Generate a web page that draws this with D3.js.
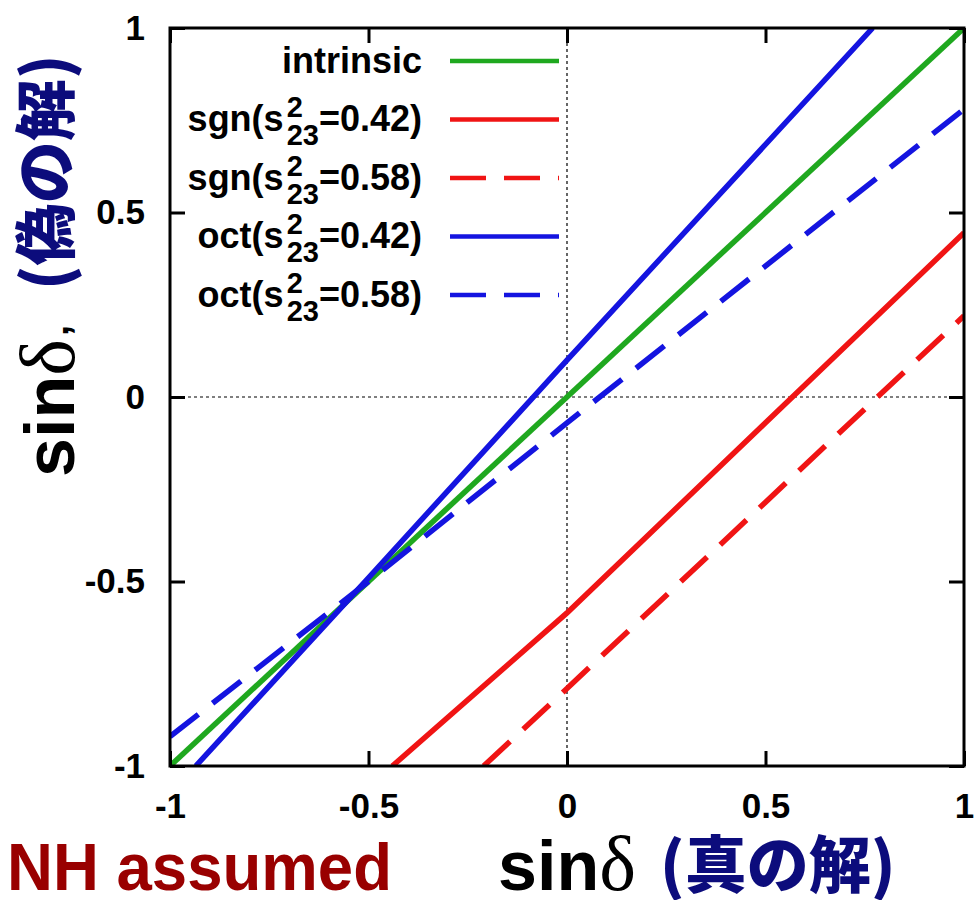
<!DOCTYPE html>
<html>
<head>
<meta charset="utf-8">
<script src="https://cdn.jsdelivr.net/npm/d3@7"></script>
<style>
  body { margin: 0; background: #fff; }
  svg { display: block; }
</style>
</head>
<body>
<script>
// Axis ticks
const xTickValues = [-1, -0.5, 0, 0.5, 1];
const yTickValues = [-1, -0.5, 0, 0.5, 1];

// sinδ (true solution) vs sinδ' (fake solution) for each degeneracy
const intrinsicX = [-1, 0, 1];
const intrinsicY = [-1, 0, 1];
const sgn042X = [-0.44, 0, 0.5, 1];
const sgn042Y = [-1, -0.585, -0.07, 0.445];
const sgn058X = [-0.21, 0, 0.5, 1];
const sgn058Y = [-1, -0.79, -0.285, 0.22];
const oct042X = [-0.935, -0.5, 0, 0.77];
const oct042Y = [-1, -0.49, 0.1, 1];
const oct058X = [-1, -0.5, 0, 1];
const oct058Y = [-0.92, -0.5, -0.07, 0.78];

// Legend entries
const seriesNames = ["intrinsic", "sgn", "sgn", "oct", "oct"];
const seriesS23 = [null, "0.42", "0.58", "0.42", "0.58"];
const seriesColors = ["#1fa81f", "#f01414", "#f01414", "#1414e0", "#1414e0"];
const seriesDashed = [false, false, true, false, true];

const seriesX = [intrinsicX, sgn042X, sgn058X, oct042X, oct058X];
const seriesY = [intrinsicY, sgn042Y, sgn058Y, oct042Y, oct058Y];

const W = 975, H = 900;
const plot = { left: 170, right: 964, top: 28, bottom: 766 };
const SANS = "'Liberation Sans', Arial, Helvetica, sans-serif";
const SERIF = "'Liberation Serif', 'Times New Roman', serif";
const CJK = "'Noto Sans CJK JP', 'Noto Sans CJK SC', sans-serif";
const NAVY = "#0c0c7c";

const x = d3.scaleLinear().domain([-1, 1]).range([plot.left, plot.right]);
const y = d3.scaleLinear().domain([-1, 1]).range([plot.bottom, plot.top]);

const svg = d3.select("body").append("svg")
  .attr("width", W).attr("height", H)
  .attr("viewBox", `0 0 ${W} ${H}`);

svg.append("defs").append("clipPath").attr("id", "plot-clip")
  .append("rect")
  .attr("x", plot.left).attr("y", plot.top)
  .attr("width", plot.right - plot.left).attr("height", plot.bottom - plot.top);

// Dotted zero lines
svg.append("line")
  .attr("x1", x(-1)).attr("x2", x(1)).attr("y1", y(0)).attr("y2", y(0))
  .attr("stroke", "#000").attr("stroke-width", 1.2).attr("stroke-dasharray", "3,3");
svg.append("line")
  .attr("x1", x(0)).attr("x2", x(0)).attr("y1", y(-1)).attr("y2", y(1))
  .attr("stroke", "#000").attr("stroke-width", 1.2).attr("stroke-dasharray", "3,3");

// Curves
const line = d3.line().x(d => x(d[0])).y(d => y(d[1]));
const curves = svg.append("g").attr("clip-path", "url(#plot-clip)");
seriesX.forEach((xs, i) => {
  const pts = xs.map((v, j) => [v, seriesY[i][j]]);
  curves.append("path")
    .attr("d", line(pts))
    .attr("fill", "none")
    .attr("stroke", seriesColors[i])
    .attr("stroke-width", 5.5)
    .attr("stroke-dasharray", seriesDashed[i] ? "36,18" : null);
});

// Legend
const legendTop = 61, legendStep = 58.5;
const legendTextX = 422, sampleX0 = 450, sampleX1 = 559;
const scriptSize = 29;
const legend = svg.append("g");
seriesNames.forEach((name, i) => {
  const ry = legendTop + i * legendStep;
  legend.append("line")
    .attr("x1", sampleX0).attr("x2", sampleX1).attr("y1", ry).attr("y2", ry)
    .attr("stroke", seriesColors[i]).attr("stroke-width", 4.5)
    .attr("stroke-dasharray", seriesDashed[i] ? "36,18" : null);
  const t = legend.append("text")
    .attr("x", legendTextX).attr("y", ry + 11.5)
    .attr("text-anchor", "end")
    .attr("font-family", SANS).attr("font-weight", "bold")
    .attr("font-size", 36).attr("fill", "#000");
  if (seriesS23[i] === null) {
    t.text(name);
  } else {
    t.append("tspan").text(name + "(s");
    t.append("tspan").attr("font-size", scriptSize).attr("dx", 3).attr("dy", -14).text("2");
    t.append("tspan").attr("font-size", scriptSize).attr("dx", -0.556 * scriptSize).attr("dy", 28).text("23");
    t.append("tspan").attr("dy", -14).text("=" + seriesS23[i] + ")");
  }
});

// Axes with inward ticks on all four sides
const fmt = d => String(d);
function styleAxis(g, withText) {
  g.select(".domain").remove();
  g.selectAll(".tick line").attr("stroke", "#000").attr("stroke-width", 3);
  if (withText) {
    g.selectAll(".tick text")
      .attr("fill", "#000")
      .attr("font-family", SANS)
      .attr("font-weight", "bold")
      .attr("font-size", 35);
  }
}
svg.append("g").attr("transform", `translate(0,${plot.bottom})`)
  .call(d3.axisBottom(x).tickValues(xTickValues).tickFormat(fmt)
    .tickSizeInner(-15).tickSizeOuter(0).tickPadding(27))
  .call(g => styleAxis(g, true));
svg.append("g").attr("transform", `translate(${plot.left},0)`)
  .call(d3.axisLeft(y).tickValues(yTickValues).tickFormat(fmt)
    .tickSizeInner(-15).tickSizeOuter(0).tickPadding(25))
  .call(g => styleAxis(g, true));
svg.append("g").attr("transform", `translate(0,${plot.top})`)
  .call(d3.axisTop(x).tickValues(xTickValues).tickFormat("")
    .tickSizeInner(-15).tickSizeOuter(0))
  .call(g => styleAxis(g, false));
svg.append("g").attr("transform", `translate(${plot.right},0)`)
  .call(d3.axisRight(y).tickValues(yTickValues).tickFormat("")
    .tickSizeInner(-15).tickSizeOuter(0))
  .call(g => styleAxis(g, false));

// Frame
svg.append("rect")
  .attr("x", plot.left).attr("y", plot.top)
  .attr("width", plot.right - plot.left).attr("height", plot.bottom - plot.top)
  .attr("fill", "none").attr("stroke", "#000").attr("stroke-width", 3);

// x-axis title: sinδ (真の解)
const xt = svg.append("text").attr("x", 498).attr("y", 890).attr("fill", "#000");
xt.append("tspan").attr("font-family", SANS).attr("font-weight", "bold").attr("font-size", 70).text("sin");
xt.append("tspan").attr("font-family", SERIF).attr("font-size", 78).text("δ");
svg.append("text").attr("x", 660).attr("y", 888)
  .attr("font-family", CJK).attr("font-weight", 900).attr("font-size", 62)
  .attr("fill", NAVY).text("(真の解)");

// y-axis title: sinδ' (偽の解)
const yl = svg.append("g").attr("transform", "translate(74,477) rotate(-90)");
const yt = yl.append("text").attr("x", 0).attr("y", 0).attr("fill", "#000");
yt.append("tspan").attr("font-family", SANS).attr("font-weight", "bold").attr("font-size", 70).text("sin");
yt.append("tspan").attr("font-family", SERIF).attr("font-size", 78).text("δ");
yl.append("text").attr("x", 141).attr("y", 17)
  .attr("font-family", SANS).attr("font-weight", "bold").attr("font-size", 40)
  .attr("fill", "#000").text("’");
yl.append("text").attr("x", 187).attr("y", -5)
  .attr("font-family", CJK).attr("font-weight", 900).attr("font-size", 62)
  .attr("fill", NAVY).text("(偽の解)");

// Mass hierarchy note
svg.append("text").attr("x", 7).attr("y", 890)
  .attr("font-family", SANS).attr("font-weight", "bold").attr("font-size", 66)
  .attr("fill", "#990000")
  .attr("textLength", 385).attr("lengthAdjust", "spacingAndGlyphs")
  .text("NH assumed");
</script>
</body>
</html>
